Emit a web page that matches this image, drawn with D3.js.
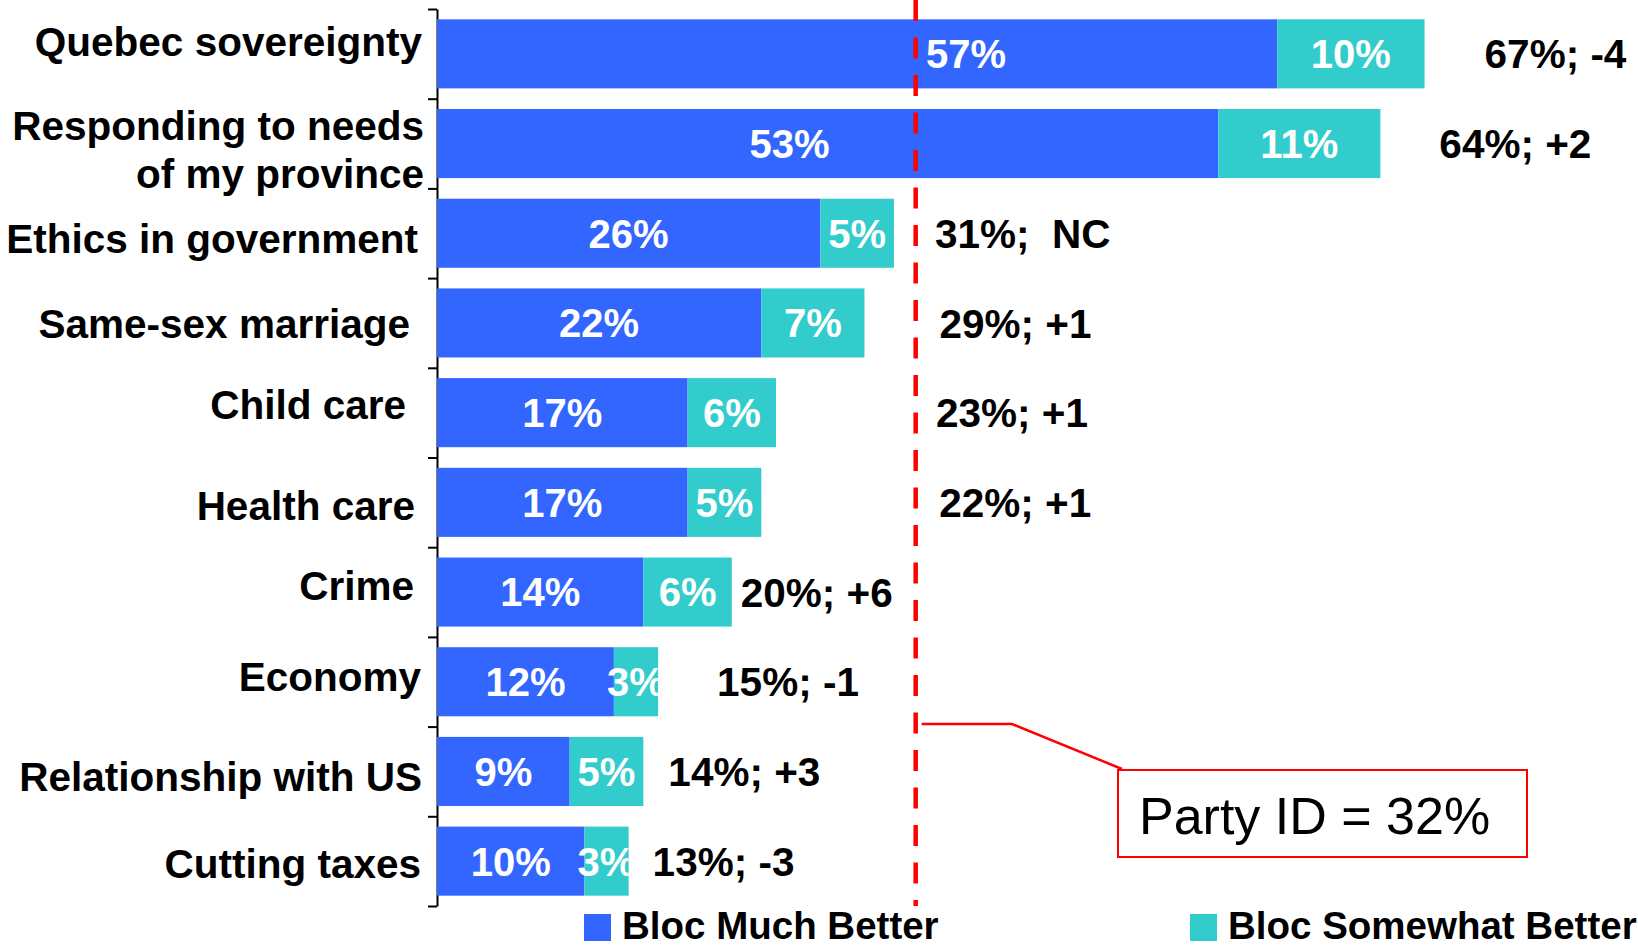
<!DOCTYPE html>
<html>
<head>
<meta charset="utf-8">
<script src="https://cdn.jsdelivr.net/npm/d3@7"></script>
<style>
  body { margin: 0; background: #fff; }
  svg text { font-family: "Liberation Sans", Arial, sans-serif; }
</style>
</head>
<body>
<svg id="chart" width="1638" height="947"></svg>
<script>
// data
const categories = ["Quebec sovereignty", "Responding to needs|of my province", "Ethics in government",
  "Same-sex marriage", "Child care", "Health care", "Crime", "Economy", "Relationship with US", "Cutting taxes"];
const muchBetter = [57, 53, 26, 22, 17, 17, 14, 12, 9, 10];
const somewhatBetter = [10, 11, 5, 7, 6, 5, 6, 3, 5, 3];
const changeLabels = ["-4", "+2", " NC", "+1", "+1", "+1", "+6", "-1", "+3", "-3"];
const partyId = 32;
const seriesNames = ["Bloc Much Better", "Bloc Somewhat Better"];

// layout tweaks (px) copied from the slide
const totalGap = [60, 59, 41, 75, 160, 178, 9, 59, 25, 24];
const catNudgeY = [-12, 6, 5, 0, -8, 3, -7, -5, 5, 2];
const catRight = [422, 424, 418, 410, 406, 415, 414, 421, 422, 421];
const innerNudge = [109, -38, 0, 0, 0, 0, 0, 0, 0, 0];
const refLineShift = 7;

const blue = "#3366ff", teal = "#33cccc", red = "#ff0000";

const svg = d3.select("#chart");

const x = d3.scaleLinear().domain([0, 80]).range([437, 437 + 80 * 14.74]);
const y = d3.scaleBand().domain(d3.range(categories.length)).range([9, 906])
            .paddingInner(0.23).paddingOuter(0.115);
const yIdx = d3.scaleLinear().domain([0, categories.length]).range([9, 906]);

// axis with ticks between categories
svg.append("g")
   .attr("transform", "translate(437,0)")
   .call(d3.axisLeft(yIdx).tickValues(d3.range(categories.length + 1)).tickSize(9).tickSizeOuter(0).tickFormat(""))
   .call(g => g.selectAll("path, line").attr("stroke", "#000").attr("stroke-width", 2));

const rows = categories.map((c, i) => ({ c, i, a: muchBetter[i], b: somewhatBetter[i] }));

// clip for labels that spill out of the bar
const defs = svg.append("defs");
rows.forEach(d => {
  defs.append("clipPath").attr("id", "clip" + d.i)
    .append("rect")
    .attr("x", x(0)).attr("y", y(d.i))
    .attr("width", x(d.a + d.b) - x(0)).attr("height", y.bandwidth());
});

const bars = svg.append("g").selectAll("g").data(rows).join("g");

bars.append("rect")
  .attr("x", x(0)).attr("y", d => y(d.i))
  .attr("width", d => x(d.a) - x(0)).attr("height", y.bandwidth())
  .attr("fill", blue);

bars.append("rect")
  .attr("x", d => x(d.a)).attr("y", d => y(d.i))
  .attr("width", d => x(d.a + d.b) - x(d.a)).attr("height", y.bandwidth())
  .attr("fill", teal);

bars.append("text")
  .attr("x", d => (x(0) + x(d.a)) / 2 + innerNudge[d.i])
  .attr("y", d => y(d.i) + y.bandwidth() / 2)
  .attr("dy", "0.36em").attr("text-anchor", "middle")
  .attr("fill", "#fff").attr("font-weight", "bold").attr("font-size", 40)
  .text(d => d.a + "%");

bars.append("text")
  .attr("clip-path", d => `url(#clip${d.i})`)
  .attr("x", d => (x(d.a) + x(d.a + d.b)) / 2)
  .attr("y", d => y(d.i) + y.bandwidth() / 2)
  .attr("dy", "0.36em").attr("text-anchor", "middle")
  .attr("fill", "#fff").attr("font-weight", "bold").attr("font-size", 40)
  .text(d => d.b + "%");

// totals with change
bars.append("text")
  .attr("x", d => x(d.a + d.b) + totalGap[d.i])
  .attr("y", d => y(d.i) + y.bandwidth() / 2)
  .attr("dy", "0.36em")
  .style("white-space", "pre")
  .attr("fill", "#000").attr("font-weight", "bold").attr("font-size", 40.5)
  .text(d => `${d.a + d.b}%; ${changeLabels[d.i]}`);

// category labels
svg.append("g").selectAll("text").data(rows).join("text")
  .attr("y", d => y(d.i) + y.bandwidth() / 2 + catNudgeY[d.i])
  .attr("text-anchor", "end").attr("font-weight", "bold").attr("font-size", 40.5)
  .attr("fill", "#000")
  .each(function (d) {
    const lines = d.c.split("|");
    d3.select(this).selectAll("tspan").data(lines).join("tspan")
      .attr("x", catRight[d.i])
      .attr("dy", (l, k) => k === 0 ? (0.36 - (lines.length - 1) * 0.6) + "em" : "1.2em")
      .text(l => l);
  });

// party id reference line
const lineX = x(partyId) + refLineShift;
svg.append("line")
  .attr("x1", lineX).attr("x2", lineX)
  .attr("y1", 0).attr("y2", 906)
  .attr("stroke", red).attr("stroke-width", 4.5)
  .attr("stroke-dasharray", "21 16.5");

svg.append("polyline")
  .attr("points", `${lineX + 6},724 1012,724 1122,769`)
  .attr("fill", "none").attr("stroke", red).attr("stroke-width", 2.5);

svg.append("rect")
  .attr("x", 1118).attr("y", 770).attr("width", 409).attr("height", 87)
  .attr("fill", "#fff").attr("stroke", red).attr("stroke-width", 2);

svg.append("text")
  .attr("x", 1139).attr("y", 834)
  .attr("font-size", 52).attr("fill", "#000")
  .text(`Party ID = ${partyId}%`);

// legend
const legend = svg.append("g").selectAll("g").data(seriesNames).join("g")
  .attr("transform", (d, i) => `translate(${i === 0 ? 584 : 1190},914)`);
legend.append("rect").attr("width", 27).attr("height", 27)
  .attr("fill", (d, i) => i === 0 ? blue : teal);
legend.append("text")
  .attr("x", 38).attr("y", 25)
  .attr("font-weight", "bold").attr("font-size", 38.5).attr("fill", "#000")
  .text(d => d);
</script>
</body>
</html>
